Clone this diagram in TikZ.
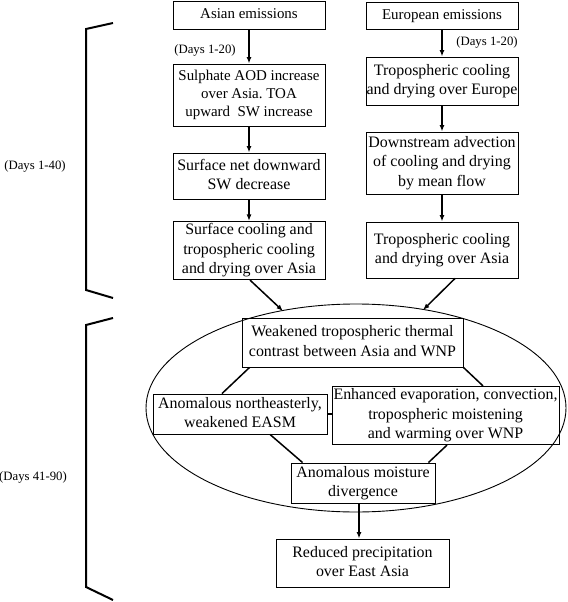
\documentclass[tikz,border=0pt]{standalone}
\usepackage{fontspec}
\setmainfont{Liberation Serif}
\usetikzlibrary{arrows.meta,calc,shapes.geometric}
\frenchspacing
\newcommand{\BoxTxt}[1]{\makebox[0pt]{\begin{tabular}{@{}c@{}}#1\end{tabular}}}
\tikzset{
  box/.style={draw, line width=0.9bp, inner sep=0pt, minimum width=#1, font=\fontsize{16}{19.5}\selectfont},
  smallbox/.style={font=\fontsize{15}{18}\selectfont},
  lab/.style={inner sep=0pt, font=\fontsize{12.8}{14}\selectfont},
  arr/.style={line width=1.5bp, -{Latex[length=6.5bp,width=5bp]}},
  conn/.style={line width=1.5bp},
  brk/.style={line width=2bp},
}
\begin{document}
\begin{tikzpicture}[x=1bp,y=-1bp]
\useasboundingbox (0,0) rectangle (568,602);
% ellipse
\node[draw, line width=0.9bp, ellipse, minimum width=420bp, minimum height=208bp, inner sep=0pt] (ell) at (356,408) {};
% left column
\node[box=152bp, smallbox, minimum height=28bp] (A1) at (249,15) {\BoxTxt{Asian emissions}};
\node[box=152bp, smallbox, minimum height=62bp] (A2) at (249,95) {\BoxTxt{Sulphate AOD increase\\over Asia. TOA\\upward\ \ SW increase}};
\node[box=152bp, minimum height=46bp] (A3) at (249,176) {\BoxTxt{Surface net downward\\SW decrease}};
\node[box=152bp, minimum height=57bp] (A4) at (249,250.5) {\BoxTxt{Surface cooling and\\tropospheric cooling\\and drying over Asia}};
% right column
\node[box=152bp, smallbox, minimum height=27bp] (E1) at (442,15.5) {\BoxTxt{European emissions}};
\node[box=152bp, minimum height=48bp] (E2) at (442,81) {\BoxTxt{Tropospheric cooling\\and drying over Europe}};
\node[box=152bp, minimum height=62bp] (E3) at (442,163) {\BoxTxt{Downstream advection\\of cooling and drying\\by mean flow}};
\node[box=152bp, minimum height=56bp] (E4) at (442,250) {\BoxTxt{Tropospheric cooling\\and drying over Asia}};
% ellipse contents
\node[box=221bp, minimum height=49bp] (W) at (352.5,342.5) {\BoxTxt{Weakened tropospheric thermal\\contrast between Asia and WNP}};
\node[box=174bp, minimum height=40bp] (N) at (240,414) {\BoxTxt{Anomalous northeasterly,\\weakened EASM}};
\node[box=227bp, minimum height=55bp] (En) at (445.5,415.5) {\BoxTxt{Enhanced evaporation, convection,\\tropospheric moistening\\and warming over WNP}};
\node[box=144bp, minimum height=40bp] (M) at (363,483) {\BoxTxt{Anomalous moisture\\divergence}};
\node[box=173bp, minimum height=48bp] (R) at (362.5,563) {\BoxTxt{Reduced precipitation\\over East Asia}};
% labels
\node[lab] (d1) at (205,50) {(Days 1-20)};
\node[lab] (d2) at (487,42) {(Days 1-20)};
\node[lab] (d3) at (35,166) {(Days 1-40)};
\node[lab] (d4) at (33,477) {(Days 41-90)};
% arrows
\draw[arr] (A1) -- (A2);
\draw[arr] (A2) -- (A3);
\draw[arr] (A3) -- (A4);
\draw[arr] (E1) -- (E2);
\draw[arr] (E2) -- (E3);
\draw[arr] (E3) -- (E4);
\coordinate (t1) at (283,311);
\coordinate (t2) at (423,310);
\coordinate (s1) at ($(A4.south)+(1,0)$);
\coordinate (s2) at ($(E4.south)+(13,0)$);
\draw[arr] (s1) -- (t1);
\draw[arr] (s2) -- (t2);
\draw[conn] ($(W.south west)+(8,0)$) -- ($(N.north)+(-18,0)$);
\draw[conn] (W.south east) -- ($(En.north)+(37.5,0)$);
\draw[conn] (N.east) -- (N.east -| En.west);
\draw[conn] ($(N.south)+(30,0)$) -- ($(M.north west)+(12,0)$);
\draw[conn] ($(En.south)+(1.5,0)$) -- ($(M.north east)+(-7,0)$);
\coordinate (ms) at ($(M.south)+(-4,0)$);
\draw[arr] (ms) -- (ms |- R.north);
% brackets
\draw[brk] (113,23) -- (86,29) -- (86,290) -- (113,298);
\draw[brk] (113,318) -- (86,325) -- (86,587) -- (113,600);
\end{tikzpicture}
\end{document}
